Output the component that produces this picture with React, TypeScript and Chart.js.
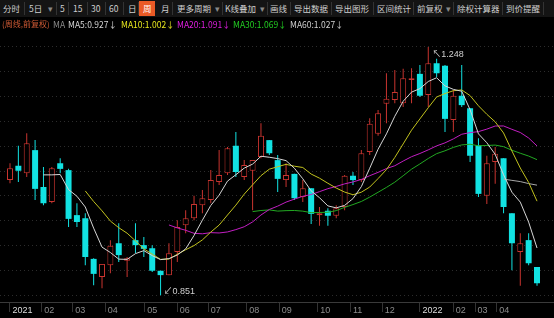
import React, { useEffect, useRef } from 'react';
import { Chart, registerables } from 'chart.js';

Chart.register(...registerables);

// Weekly OHLC (前复权)
const opens = [
  1.035, 1.058, 1.046, 1.083, 1.024, 1.0, 1.062, 1.051, 0.979, 0.974,
  0.909, 0.88, 0.899, 0.934, 0.906, 0.939, 0.931, 0.926, 0.89, 0.883,
  0.92, 0.963, 0.974, 0.995, 1.003, 1.032, 1.046, 1.09, 1.04, 1.05,
  1.072, 1.099, 1.067, 1.035, 1.045, 1.008, 1.022, 0.979, 0.986, 0.978,
  0.992, 1.042, 1.035, 1.08, 1.109, 1.157, 1.163, 1.158, 1.195, 1.205,
  1.171, 1.222, 1.218, 1.131, 1.17, 1.15, 1.091, 1.01, 1.064, 1.07,
  0.982, 0.92, 0.939, 0.896,
];
const highs = [
  1.062, 1.09, 1.11, 1.099, 1.056, 1.056, 1.07, 1.053, 0.998, 0.982,
  0.91, 0.901, 0.939, 0.966, 0.912, 0.966, 0.944, 0.931, 0.89, 0.934,
  0.971, 0.987, 1.01, 1.019, 1.051, 1.083, 1.088, 1.112, 1.067, 1.067,
  1.126, 1.099, 1.075, 1.062, 1.045, 1.035, 1.022, 0.992, 0.99, 0.995,
  1.043, 1.048, 1.083, 1.134, 1.147, 1.206, 1.211, 1.213, 1.214, 1.219,
  1.248, 1.229, 1.219, 1.179, 1.219, 1.15, 1.102, 1.074, 1.088, 1.07,
  0.982, 0.95, 0.95, 0.896,
];
const lows = [
  1.03, 1.032, 1.04, 1.003, 0.995, 0.998, 1.046, 0.96, 0.96, 0.899,
  0.867, 0.862, 0.886, 0.904, 0.88, 0.918, 0.912, 0.888, 0.851, 0.883,
  0.904, 0.95, 0.971, 0.982, 0.998, 1.027, 1.043, 1.04, 1.035, 0.987,
  1.07, 1.075, 1.016, 1.024, 1.003, 1.0, 0.965, 0.962, 0.962, 0.974,
  0.987, 1.027, 1.032, 1.075, 1.106, 1.126, 1.158, 1.152, 1.158, 1.168,
  1.152, 1.2, 1.112, 1.112, 1.152, 1.064, 1.008, 0.997, 1.029, 0.982,
  0.891, 0.866, 0.899, 0.866,
];
const closes = [
  1.054, 1.05, 1.094, 1.021, 0.998, 1.054, 1.053, 0.973, 0.968, 0.912,
  0.885, 0.901, 0.93, 0.915, 0.91, 0.931, 0.925, 0.89, 0.883, 0.918,
  0.96, 0.974, 0.997, 1.006, 1.035, 1.043, 1.086, 1.048, 1.059, 1.067,
  1.106, 1.078, 1.037, 1.043, 1.006, 1.022, 0.981, 0.982, 0.978, 0.99,
  1.042, 1.035, 1.078, 1.125, 1.142, 1.165, 1.176, 1.198, 1.198, 1.17,
  1.222, 1.206, 1.133, 1.17, 1.155, 1.074, 1.013, 1.062, 1.077, 0.992,
  0.934, 0.934, 0.902, 0.87,
];

// Moving-average periods, legend values (as printed) and colours
const maPeriods = [5, 10, 20, 30, 60];
const maLegendValues = ['0.927', '1.002', '1.091', '1.069', '1.027'];
const maLineColors = ['#d6d6d6', '#c2c21e', '#c21ec2', '#22a822', '#a8a8a8'];
const maTextColors = ['#d6d6d6', '#e6e61e', '#e01ee0', '#22cc22', '#cfcfcf'];

// Month ticks on the time axis (position in candle-index units)
const monthTickPos = [0, 3.8, 7.5, 11.4, 16.1, 20.0, 23.7, 28.3, 32.2, 36.8, 40.7, 44.5, 49.0, 53.0, 55.6, 58.2];
const monthTickLabels = ['2021', '02', '03', '04', '05', '06', '07', '08', '09', '10', '11', '12', '2022', '02', '03', '04'];

const toolbarItems = [
  { t: '分时', x: 3 }, { t: '5日', x: 29 }, { t: '▾', x: 48, dim: true }, { t: '5', x: 60 },
  { t: '15', x: 73 }, { t: '30', x: 91 }, { t: '60', x: 109 }, { t: '日', x: 128 },
  { t: '周', x: 143, active: true }, { t: '月', x: 161 }, { t: '更多周期', x: 177 },
  { t: '▾', x: 215, dim: true }, { t: 'K线叠加', x: 225 }, { t: '▾', x: 260, dim: true },
  { t: '画线', x: 270 }, { t: '导出数据', x: 294 }, { t: '导出图形', x: 335 },
  { t: '区间统计', x: 377 }, { t: '前复权', x: 417 }, { t: '▾', x: 446, dim: true },
  { t: '除权计算器', x: 457 }, { t: '到价提醒', x: 506 },
];
const toolbarSeparators = [24, 56, 68, 87, 105, 123, 138, 172, 222, 267, 290, 331, 373, 413, 453, 502, 543];

const legendItems = [
  { t: '(周线,前复权)', x: 2, c: '#cf5a34' },
  { t: 'MA', x: 53, c: '#8a8a8a' },
];
const legendX = [68, 121, 177, 233, 290];

const RED = '#c8342f';
const CYAN = '#12e2e2';
const FONT = "'Liberation Sans', 'Noto Sans CJK SC', sans-serif";
const CJK = "'Noto Sans CJK SC', sans-serif";

export default function App() {
  const ref = useRef<HTMLCanvasElement>(null);

  useEffect(() => {
    document.body.style.margin = '0';
    document.body.style.background = '#000';
    const n = closes.length;
    const bodyUp: any[] = [], bodyDown: any[] = [], wickUp: any[] = [], wickDown: any[] = [];
    for (let i = 0; i < n; i++) {
      const up = closes[i] >= opens[i];
      (up ? bodyUp : bodyDown).push({ x: i, y: [opens[i], closes[i]] });
      (up ? wickUp : wickDown).push({ x: i, y: [lows[i], highs[i]] });
    }
    // moving averages of the closes
    const maData = maPeriods.map((p) => {
      const pts: any[] = [];
      for (let i = p - 1; i < n; i++) {
        let s = 0;
        for (let k = i - p + 1; k <= i; k++) s += closes[k];
        pts.push({ x: i, y: s / p });
      }
      return pts;
    });
    const hi = Math.max(...highs);
    const lo = Math.min(...lows);
    const range = hi - lo;
    const hiIdx = highs.indexOf(hi);
    const loIdx = lows.indexOf(lo);

    const extremes = {
      id: 'extremes',
      afterDatasetsDraw(chart: any) {
        const { ctx, scales } = chart;
        ctx.save();
        ctx.font = `9px ${FONT}`;
        ctx.fillStyle = '#cfcfcf';
        ctx.textBaseline = 'middle';
        ctx.textAlign = 'left';
        const hx = scales.x.getPixelForValue(hiIdx);
        const hy = scales.y.getPixelForValue(hi);
        ctx.fillText('↖' + hi.toFixed(3), hx + 4, hy + 8);
        const lx = scales.x.getPixelForValue(loIdx);
        const ly = scales.y.getPixelForValue(lo);
        ctx.fillText('↙' + lo.toFixed(3), lx + 3, ly - 4);
        ctx.restore();
      },
    };

    const barCommon = { grouped: false, inflateAmount: 0, borderSkipped: false as any };
    const chart = new Chart(ref.current!, {
      type: 'bar',
      data: {
        datasets: [
          { ...barCommon, data: wickUp, backgroundColor: RED, barThickness: 1, order: 5 } as any,
          { ...barCommon, data: wickDown, backgroundColor: CYAN, barThickness: 1, order: 5 } as any,
          { ...barCommon, data: bodyUp, backgroundColor: '#000', borderColor: RED, borderWidth: 1, barThickness: 6, order: 4 } as any,
          { ...barCommon, data: bodyDown, backgroundColor: CYAN, borderColor: CYAN, borderWidth: 0, barThickness: 6, order: 4 } as any,
          ...maData.map((d, k) => ({
            type: 'line',
            data: d,
            borderColor: maLineColors[k],
            borderWidth: 1,
            pointRadius: 0,
            tension: 0,
            order: 1,
          })) as any,
        ],
      },
      options: {
        responsive: false,
        maintainAspectRatio: false,
        animation: false,
        events: [],
        layout: { padding: { top: 30, left: 0, right: 0, bottom: 0 } },
        plugins: { legend: { display: false }, tooltip: { enabled: false } },
        scales: {
          x: {
            type: 'linear',
            min: -1.195,
            max: 65.03,
            offset: false,
            grid: { display: true, offset: false, drawOnChartArea: false, drawTicks: true, tickLength: 10, tickColor: '#333', tickWidth: 1 },
            border: { display: true, color: '#3a3a3a' },
            ticks: {
              align: 'start',
              padding: -7,
              autoSkip: false,
              maxRotation: 0,
              font: { size: 9, family: FONT },
              color: (c: any) => (/^\d{4}$/.test(monthTickLabels[c.index] || '') ? '#dcdcdc' : '#8c8c8c'),
              callback: (_v: any, i: number) => ' ' + monthTickLabels[i],
            },
            afterBuildTicks: (s: any) => {
              s.ticks = monthTickPos.map((v) => ({ value: v }));
            },
            afterFit: (s: any) => {
              s.height = 16;
            },
          },
          y: {
            min: lo - range * 0.0277,
            max: hi + range * 0.0685,
            grid: { color: '#2c2c2c', drawTicks: false, lineWidth: 1 },
            border: { display: false, dash: [1, 3] },
            ticks: { display: false },
            afterBuildTicks: (s: any) => {
              const t: any[] = [];
              for (let k = 0; k <= 10; k++) t.push({ value: lo + (k * range) / 10 });
              s.ticks = t;
            },
            afterFit: (s: any) => {
              s.width = 0;
            },
          },
        },
      } as any,
      plugins: [extremes],
    });
    return () => chart.destroy();
  }, []);

  return (
    <div style={{ position: 'relative', width: 554, height: 318, background: '#000', overflow: 'hidden' }}>
      <canvas ref={ref} width={554} height={318} style={{ position: 'absolute', left: 0, top: 0, width: 554, height: 318 }} />
      <div style={{ position: 'absolute', left: 0, top: 0, width: 554, height: 17, background: '#141414', fontFamily: CJK, fontSize: 8.5 }}>
        {toolbarSeparators.map((x, i) => (
          <div key={'s' + i} style={{ position: 'absolute', left: x, top: 2, width: 1, height: 13, background: '#333' }} />
        ))}
        <div style={{ position: 'absolute', left: 139, top: 1, width: 16, height: 15, background: '#ea5a26' }} />
        {toolbarItems.map((it, i) => (
          <div
            key={i}
            style={{
              position: 'absolute',
              left: it.x,
              top: 2,
              lineHeight: '13px',
              whiteSpace: 'nowrap',
              color: it.active ? '#fff' : it.dim ? '#888' : '#cfcfcf',
            }}
          >
            {it.t}
          </div>
        ))}
      </div>
      <div style={{ position: 'absolute', left: 0, top: 18, width: 554, height: 12, fontFamily: CJK, fontSize: 8.5 }}>
        {legendItems.map((it, i) => (
          <div key={'l' + i} style={{ position: 'absolute', left: it.x, top: 0, lineHeight: '12px', whiteSpace: 'nowrap', color: it.c, fontSize: i === 0 ? 8 : 8.5 }}>
            {it.t}
          </div>
        ))}
        {maPeriods.map((p, k) => (
          <div key={'m' + k} style={{ position: 'absolute', left: legendX[k], top: 0, lineHeight: '12px', whiteSpace: 'nowrap', color: maTextColors[k] }}>
            {`MA${p}:${maLegendValues[k]}↓`}
          </div>
        ))}
      </div>
    </div>
  );
}
